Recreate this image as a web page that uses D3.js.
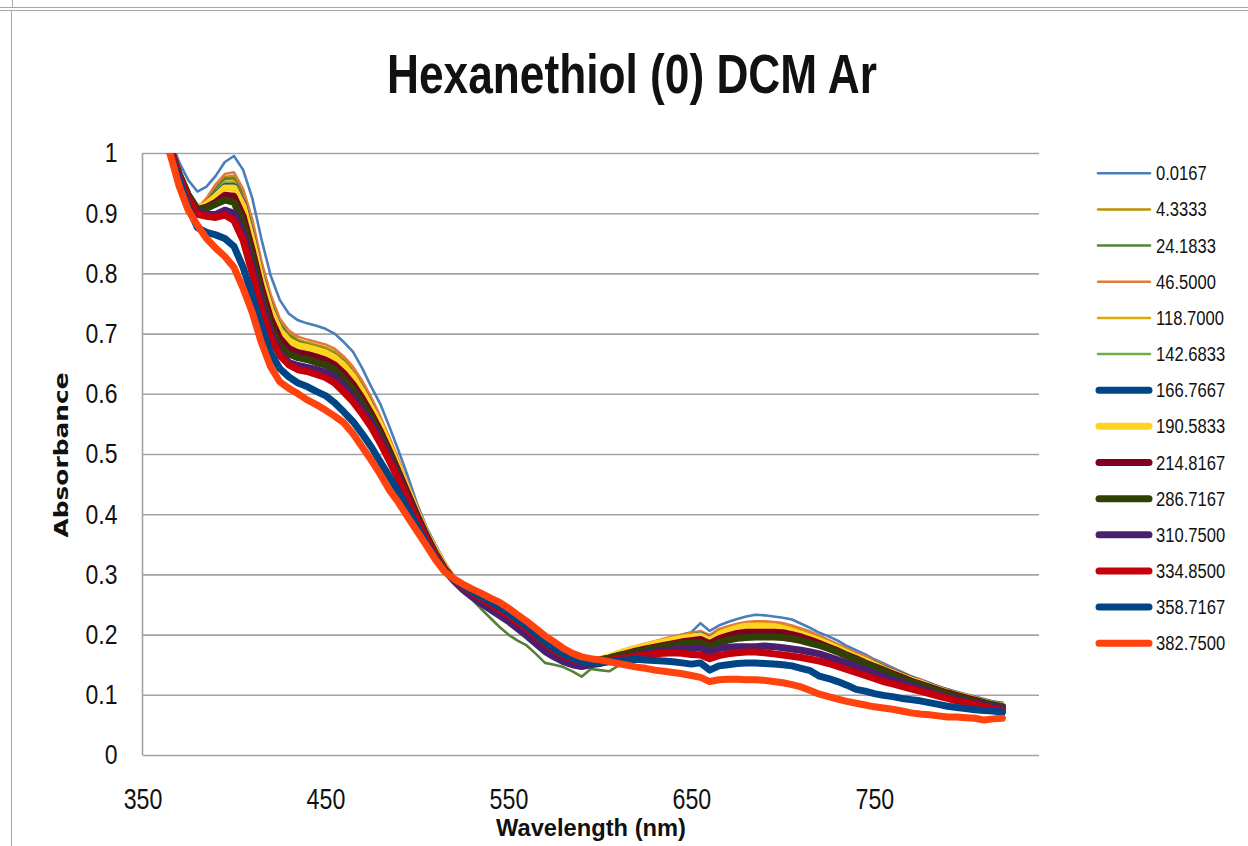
<!DOCTYPE html>
<meta charset="utf-8">
<style>
body { margin: 0; background: #fff; }
svg text { font-family: "Liberation Sans Narrow", "Arial Narrow", "Liberation Sans", sans-serif; fill: #111; }
.grid line { stroke: #a3a3a3; stroke-width: 1.6px; }
.grid .domain { display: none; }
.xaxis .domain { display: none; }
.series { fill: none; stroke-linejoin: round; stroke-linecap: round; }
.frame { stroke: #a8a8a8; stroke-width: 1px; fill: none; }
</style>
<body>
<script src="https://cdn.jsdelivr.net/npm/d3@7"></script>
<script>
// wavelength (nm)
var wavelength = [360,365,370,375,380,385,390,395,400,405,410,415,420,425,430,435,440,445,450,455,460,465,470,475,480,485,490,495,500,505,510,515,520,525,530,535,540,545,550,555,560,565,570,575,580,585,590,595,600,605,610,615,620,625,630,635,640,645,650,655,660,665,670,675,680,685,690,695,700,705,710,715,720,725,730,735,740,745,750,755,760,765,770,775,780,785,790,795,800,805,810,815,820];

// absorbance, one array per time
var t0_0167 = [1.06,1.025,0.985,0.955,0.936,0.944,0.962,0.985,0.995,
  0.972,0.925,0.857,0.797,0.756,0.733,0.722,0.717,
  0.713,0.708,0.70,0.686,0.67,0.643,0.612,0.583,
  0.545,0.505,0.463,0.418,0.38,0.35,0.322,0.298,
  0.281,0.266,0.254,0.245,0.234,0.224,0.211,0.198,
  0.185,0.172,0.163,0.156,0.152,0.15,0.153,0.158,
  0.163,0.168,0.173,0.179,0.183,0.188,0.192,0.196,
  0.2,0.204,0.219,0.206,0.215,0.221,0.226,0.23,
  0.233,0.232,0.23,0.228,0.225,0.218,0.211,0.203,
  0.197,0.19,0.181,0.174,0.167,0.159,0.152,0.145,
  0.138,0.131,0.126,0.12,0.114,0.109,0.105,0.101,
  0.097,0.093,0.089,0.087];
var t4_3333 = [1.05,1.01,0.965,0.93,0.908,0.922,0.943,0.96,0.962,
  0.934,0.882,0.812,0.758,0.72,0.7,0.69,0.685,
  0.681,0.677,0.67,0.658,0.64,0.618,0.59,0.556,
  0.521,0.485,0.447,0.41,0.375,0.343,0.316,0.294,
  0.279,0.265,0.255,0.245,0.235,0.225,0.213,0.2,
  0.187,0.175,0.165,0.157,0.153,0.151,0.154,0.159,
  0.164,0.17,0.175,0.18,0.184,0.188,0.192,0.195,
  0.199,0.202,0.204,0.197,0.207,0.212,0.216,0.22,
  0.221,0.221,0.22,0.217,0.213,0.208,0.203,0.196,
  0.19,0.183,0.176,0.169,0.162,0.155,0.148,0.142,
  0.136,0.13,0.124,0.118,0.113,0.108,0.103,0.099,
  0.095,0.091,0.087,0.084];
var t24_1833 = [1.05,1.01,0.965,0.93,0.908,0.92,0.94,0.957,0.958,
  0.93,0.876,0.806,0.752,0.716,0.697,0.687,0.682,
  0.678,0.673,0.666,0.654,0.636,0.613,0.585,0.551,
  0.516,0.48,0.442,0.405,0.37,0.338,0.31,0.289,
  0.274,0.259,0.243,0.228,0.213,0.2,0.19,0.182,
  0.168,0.153,0.15,0.146,0.139,0.13,0.143,0.141,
  0.139,0.148,0.158,0.168,0.176,0.182,0.187,0.191,
  0.195,0.199,0.202,0.196,0.204,0.209,0.213,0.216,
  0.216,0.217,0.216,0.214,0.21,0.205,0.2,0.193,
  0.187,0.18,0.173,0.166,0.159,0.152,0.146,0.14,
  0.134,0.128,0.122,0.116,0.111,0.106,0.101,0.097,
  0.093,0.089,0.086,0.083];
var t46_5000 = [1.05,1.01,0.965,0.93,0.908,0.925,0.948,0.965,0.968,
  0.94,0.89,0.82,0.765,0.725,0.705,0.695,0.69,
  0.686,0.682,0.675,0.662,0.645,0.622,0.594,0.562,
  0.527,0.49,0.452,0.414,0.378,0.346,0.318,0.295,
  0.28,0.267,0.257,0.247,0.237,0.226,0.214,0.202,
  0.19,0.177,0.167,0.158,0.154,0.153,0.155,0.16,
  0.165,0.172,0.177,0.181,0.185,0.189,0.193,0.197,
  0.2,0.203,0.206,0.199,0.209,0.214,0.218,0.221,
  0.222,0.222,0.221,0.219,0.215,0.21,0.205,0.198,
  0.191,0.184,0.177,0.17,0.164,0.157,0.15,0.143,
  0.137,0.131,0.125,0.119,0.114,0.109,0.104,0.1,
  0.096,0.092,0.088,0.085];
var t118_7000 = [1.05,1.01,0.965,0.93,0.908,0.918,0.936,0.952,0.953,
  0.925,0.87,0.8,0.748,0.712,0.694,0.684,0.68,
  0.676,0.671,0.664,0.652,0.634,0.611,0.583,0.55,
  0.515,0.479,0.442,0.405,0.371,0.34,0.314,0.294,
  0.279,0.266,0.256,0.246,0.236,0.226,0.214,0.203,
  0.19,0.177,0.166,0.158,0.154,0.152,0.155,0.159,
  0.164,0.17,0.175,0.179,0.183,0.187,0.19,0.194,
  0.197,0.2,0.203,0.195,0.205,0.21,0.214,0.217,
  0.218,0.218,0.217,0.215,0.211,0.206,0.2,0.194,
  0.188,0.181,0.174,0.167,0.16,0.154,0.147,0.141,
  0.135,0.129,0.123,0.117,0.112,0.107,0.102,0.098,
  0.094,0.09,0.087,0.083];
var t142_6833 = [1.05,1.01,0.965,0.93,0.908,0.917,0.934,0.95,0.95,
  0.922,0.866,0.797,0.745,0.71,0.691,0.682,0.678,
  0.674,0.669,0.662,0.65,0.632,0.609,0.58,0.547,
  0.512,0.476,0.44,0.403,0.369,0.338,0.312,0.292,
  0.278,0.265,0.254,0.244,0.234,0.224,0.212,0.2,
  0.188,0.176,0.165,0.157,0.153,0.151,0.154,0.158,
  0.162,0.168,0.172,0.176,0.18,0.184,0.188,0.191,
  0.194,0.197,0.2,0.193,0.202,0.207,0.211,0.213,
  0.213,0.214,0.213,0.211,0.208,0.203,0.198,0.191,
  0.185,0.179,0.172,0.165,0.158,0.152,0.145,0.139,
  0.133,0.127,0.121,0.116,0.111,0.106,0.101,0.097,
  0.093,0.089,0.086,0.082];
var t166_7667 = [1.05,1.01,0.965,0.93,0.908,0.915,0.93,0.944,0.944,
  0.915,0.858,0.792,0.742,0.706,0.688,0.679,0.676,
  0.672,0.667,0.66,0.647,0.629,0.606,0.578,0.545,
  0.51,0.474,0.438,0.402,0.368,0.337,0.311,0.292,
  0.278,0.266,0.255,0.245,0.236,0.226,0.214,0.203,
  0.19,0.178,0.167,0.159,0.155,0.153,0.155,0.158,
  0.162,0.167,0.171,0.175,0.179,0.183,0.186,0.19,
  0.193,0.196,0.199,0.191,0.2,0.205,0.209,0.211,
  0.212,0.212,0.211,0.209,0.206,0.201,0.196,0.19,
  0.184,0.177,0.17,0.163,0.157,0.151,0.144,0.138,
  0.132,0.126,0.12,0.115,0.11,0.105,0.1,0.096,
  0.092,0.088,0.085,0.081];
var t190_5833 = [1.05,1.01,0.965,0.93,0.908,0.915,0.928,0.942,0.942,
  0.912,0.855,0.79,0.74,0.705,0.688,0.68,0.677,
  0.673,0.668,0.66,0.647,0.629,0.605,0.577,0.548,
  0.513,0.477,0.44,0.403,0.369,0.34,0.314,0.292,
  0.278,0.266,0.256,0.246,0.237,0.227,0.215,0.204,
  0.191,0.179,0.168,0.16,0.156,0.154,0.156,0.159,
  0.163,0.168,0.173,0.177,0.181,0.185,0.188,0.191,
  0.194,0.196,0.198,0.19,0.2,0.206,0.211,0.214,
  0.214,0.214,0.213,0.21,0.206,0.201,0.196,0.19,
  0.184,0.177,0.17,0.163,0.157,0.15,0.143,0.137,
  0.131,0.125,0.12,0.114,0.109,0.104,0.1,0.096,
  0.092,0.088,0.084,0.081];
var t214_8167 = [1.05,1.01,0.965,0.93,0.906,0.91,0.918,0.93,0.928,
  0.895,0.838,0.776,0.725,0.692,0.675,0.668,0.665,
  0.661,0.656,0.648,0.634,0.616,0.593,0.567,0.538,
  0.505,0.47,0.434,0.399,0.366,0.336,0.31,0.292,
  0.278,0.266,0.256,0.247,0.238,0.228,0.216,0.205,
  0.192,0.18,0.169,0.16,0.156,0.153,0.155,0.158,
  0.161,0.165,0.169,0.173,0.176,0.179,0.182,0.185,
  0.188,0.19,0.192,0.185,0.193,0.198,0.202,0.204,
  0.204,0.204,0.204,0.203,0.2,0.196,0.191,0.185,
  0.179,0.173,0.166,0.16,0.153,0.147,0.141,0.135,
  0.129,0.123,0.118,0.113,0.108,0.103,0.099,0.095,
  0.091,0.087,0.083,0.08];
var t286_7167 = [1.05,1.01,0.965,0.93,0.906,0.908,0.915,0.922,0.918,
  0.885,0.828,0.765,0.711,0.68,0.666,0.66,0.657,
  0.652,0.648,0.64,0.625,0.608,0.585,0.561,0.532,
  0.5,0.466,0.43,0.395,0.363,0.335,0.31,0.291,
  0.278,0.268,0.258,0.249,0.239,0.229,0.217,0.206,
  0.194,0.182,0.171,0.163,0.158,0.153,0.155,0.158,
  0.161,0.165,0.168,0.171,0.174,0.177,0.18,0.183,
  0.185,0.186,0.187,0.18,0.187,0.191,0.194,0.195,
  0.196,0.196,0.196,0.195,0.193,0.19,0.186,0.182,
  0.177,0.171,0.165,0.158,0.152,0.146,0.14,0.133,
  0.127,0.122,0.116,0.111,0.106,0.101,0.097,0.093,
  0.089,0.086,0.083,0.08];
var t310_7500 = [1.05,1.01,0.962,0.925,0.903,0.898,0.898,0.905,0.9,
  0.868,0.812,0.752,0.702,0.668,0.652,0.647,0.644,
  0.64,0.636,0.628,0.613,0.596,0.575,0.552,0.525,
  0.494,0.462,0.427,0.392,0.361,0.333,0.308,0.29,
  0.275,0.263,0.252,0.242,0.232,0.222,0.21,0.198,
  0.185,0.172,0.163,0.155,0.15,0.147,0.15,0.152,
  0.156,0.16,0.163,0.166,0.169,0.171,0.173,0.175,
  0.176,0.177,0.178,0.171,0.177,0.179,0.18,0.18,
  0.18,0.181,0.18,0.178,0.176,0.174,0.171,0.168,
  0.163,0.158,0.153,0.147,0.142,0.136,0.13,0.125,
  0.12,0.115,0.11,0.105,0.1,0.096,0.092,0.089,
  0.086,0.083,0.08,0.077];
var t334_8500 = [1.05,1.01,0.96,0.925,0.898,0.895,0.893,0.897,0.888,
  0.855,0.8,0.74,0.694,0.664,0.648,0.64,0.637,
  0.632,0.627,0.618,0.603,0.587,0.567,0.545,0.518,
  0.488,0.457,0.424,0.39,0.36,0.333,0.309,0.291,
  0.279,0.27,0.26,0.251,0.241,0.232,0.22,0.21,
  0.197,0.185,0.174,0.165,0.159,0.154,0.154,0.155,
  0.157,0.16,0.162,0.164,0.166,0.168,0.169,0.17,
  0.169,0.167,0.166,0.16,0.165,0.168,0.17,0.171,
  0.171,0.17,0.168,0.166,0.164,0.162,0.159,0.156,
  0.152,0.147,0.142,0.137,0.132,0.127,0.122,0.118,
  0.114,0.11,0.106,0.102,0.098,0.094,0.09,0.087,
  0.084,0.08,0.077,0.074];
var t358_7167 = [1.045,1.0,0.955,0.91,0.876,0.868,0.864,0.858,0.845,
  0.81,0.763,0.712,0.668,0.642,0.628,0.618,0.612,
  0.604,0.597,0.585,0.57,0.554,0.534,0.512,0.487,
  0.462,0.436,0.409,0.38,0.353,0.328,0.307,0.292,
  0.281,0.272,0.263,0.255,0.246,0.236,0.225,0.214,
  0.201,0.188,0.177,0.168,0.161,0.155,0.153,0.153,
  0.155,0.157,0.158,0.159,0.158,0.157,0.156,0.155,
  0.153,0.151,0.153,0.141,0.148,0.15,0.152,0.153,
  0.153,0.152,0.151,0.15,0.148,0.144,0.14,0.131,
  0.127,0.122,0.116,0.109,0.106,0.102,0.099,0.097,
  0.094,0.092,0.09,0.087,0.084,0.081,0.079,0.077,
  0.075,0.074,0.073,0.071];
var t382_7500 = [1.04,1.0,0.945,0.905,0.88,0.858,0.842,0.828,0.81,
  0.775,0.735,0.685,0.645,0.62,0.609,0.6,0.59,
  0.582,0.573,0.563,0.552,0.534,0.512,0.49,0.466,
  0.44,0.419,0.395,0.372,0.349,0.325,0.305,0.293,
  0.284,0.276,0.269,0.261,0.254,0.244,0.233,0.222,
  0.21,0.198,0.188,0.177,0.169,0.163,0.16,0.158,
  0.155,0.152,0.149,0.146,0.144,0.141,0.139,0.137,
  0.135,0.132,0.129,0.122,0.125,0.126,0.126,0.125,
  0.125,0.124,0.122,0.12,0.117,0.113,0.107,0.101,
  0.097,0.093,0.089,0.086,0.083,0.08,0.078,0.076,
  0.073,0.07,0.068,0.067,0.065,0.063,0.063,0.062,
  0.061,0.058,0.06,0.061];

var seriesLabels = ["0.0167","4.3333","24.1833","46.5000","118.7000","142.6833","166.7667",
  "190.5833","214.8167","286.7167","310.7500","334.8500","358.7167","382.7500"];
var yTicks = [0,0.1,0.2,0.3,0.4,0.5,0.6,0.7,0.8,0.9,1];
var xTicks = [350,450,550,650,750];

var seriesValues = [t0_0167,t4_3333,t24_1833,t46_5000,t118_7000,t142_6833,t166_7667,
  t190_5833,t214_8167,t286_7167,t310_7500,t334_8500,t358_7167,t382_7500];

// styles
var colors = ["#4a7ebb","#bf9000","#548235","#e07b39","#e0a800","#70ad47","#004586",
  "#ffd320","#7e0021","#314004","#4b1f6f","#c5000b","#004586","#ff420e"];
var strokeW = [2.6,2.6,2.6,2.6,2.6,2.6,7,7,7,7,7,7,7,7];

// squeeze text horizontally (no narrow font installed)
function condense(sel, k) {
  sel.each(function() {
    var w = this.getComputedTextLength();
    d3.select(this).attr("textLength", w * k).attr("lengthAdjust", "spacingAndGlyphs");
  });
}

var svg = d3.select("body").append("svg")
      .attr("width", 1248)
      .attr("height", 846);

// spreadsheet cell edges around the chart
svg.append("line").attr("class", "frame").attr("x1", 0).attr("x2", 1248).attr("y1", 7.5).attr("y2", 7.5);
svg.append("line").attr("class", "frame").attr("x1", 0).attr("x2", 1248).attr("y1", 10.5).attr("y2", 10.5);
svg.append("line").attr("class", "frame").attr("x1", 12.5).attr("x2", 12.5).attr("y1", 0).attr("y2", 7.5);
svg.append("line").attr("class", "frame").attr("x1", 11.5).attr("x2", 11.5).attr("y1", 10.5).attr("y2", 846);

var plotLeft = 142.5, plotRight = 1039, plotTop = 153, plotBottom = 755;
var x = d3.scaleLinear().domain([350, 840]).range([plotLeft, plotRight]);
var y = d3.scaleLinear().domain([0, 1]).range([plotBottom, plotTop]);

// title
svg.append("text")
  .attr("x", 632).attr("y", 93)
  .attr("text-anchor", "middle")
  .attr("font-size", 56).attr("font-weight", "bold")
  .attr("textLength", 490).attr("lengthAdjust", "spacingAndGlyphs")
  .text("Hexanethiol (0) DCM Ar");

// horizontal gridlines + y labels
var yAxis = svg.append("g")
  .attr("class", "grid")
  .attr("transform", "translate(" + plotLeft + ",0)")
  .call(d3.axisLeft(y).tickValues(yTicks).tickSize(-(plotRight - plotLeft)).tickPadding(25)
    .tickFormat(d3.format(".1~f")));
yAxis.attr("font-family", null).attr("font-size", null);
yAxis.selectAll("text").attr("font-size", 28).attr("fill", "#111").call(condense, 0.82);

svg.append("line")
  .attr("x1", plotLeft).attr("x2", plotLeft).attr("y1", plotTop).attr("y2", plotBottom)
  .attr("stroke", "#a3a3a3").attr("stroke-width", 1.6);

// x labels
var xAxis = svg.append("g")
  .attr("class", "xaxis")
  .attr("transform", "translate(0," + plotBottom + ")")
  .call(d3.axisBottom(x).tickValues(xTicks).tickSize(0).tickPadding(33));
xAxis.attr("font-family", null).attr("font-size", null);
xAxis.selectAll("text").attr("font-size", 29).attr("fill", "#111").call(condense, 0.8);

// axis titles
svg.append("text")
  .attr("x", 591).attr("y", 836)
  .attr("text-anchor", "middle")
  .attr("font-size", 24).attr("font-weight", "bold")
  .attr("textLength", 190).attr("lengthAdjust", "spacingAndGlyphs")
  .text("Wavelength (nm)");

svg.append("text")
  .attr("transform", "translate(68,455) rotate(-90)")
  .attr("text-anchor", "middle")
  .attr("font-size", 20).attr("font-weight", "bold")
  .style("font-family", "'DejaVu Sans', Verdana, sans-serif")
  .attr("textLength", 165).attr("lengthAdjust", "spacingAndGlyphs")
  .text("Absorbance");

// spectra
svg.append("clipPath").attr("id", "plot")
  .append("rect").attr("x", plotLeft).attr("y", plotTop)
  .attr("width", plotRight - plotLeft).attr("height", plotBottom - plotTop);

var line = d3.line()
  .x(function(d, i) { return x(wavelength[i]); })
  .y(function(d) { return y(d); });

svg.append("g").attr("clip-path", "url(#plot)")
  .selectAll("path")
  .data(seriesValues)
  .enter().append("path")
  .attr("class", "series")
  .attr("stroke", function(d, i) { return colors[i]; })
  .attr("stroke-width", function(d, i) { return strokeW[i]; })
  .attr("d", line);

// legend
var legend = svg.append("g").attr("transform", "translate(1098,173.3)");
var item = legend.selectAll("g")
  .data(seriesLabels)
  .enter().append("g")
  .attr("transform", function(d, i) { return "translate(0," + (i * 36.15) + ")"; });

item.append("line")
  .attr("x1", function(d, i) { return strokeW[i] > 3 ? 1 : 0; })
  .attr("x2", function(d, i) { return strokeW[i] > 3 ? 51 : 52; })
  .attr("stroke", function(d, i) { return colors[i]; })
  .attr("stroke-width", function(d, i) { return strokeW[i] > 3 ? 7 : 2.5; })
  .attr("stroke-linecap", "round");

item.append("text")
  .attr("x", 58)
  .attr("dy", "0.36em")
  .attr("font-size", 19.5)
  .text(function(d) { return d; })
  .call(condense, 0.85);
</script>
</body>
